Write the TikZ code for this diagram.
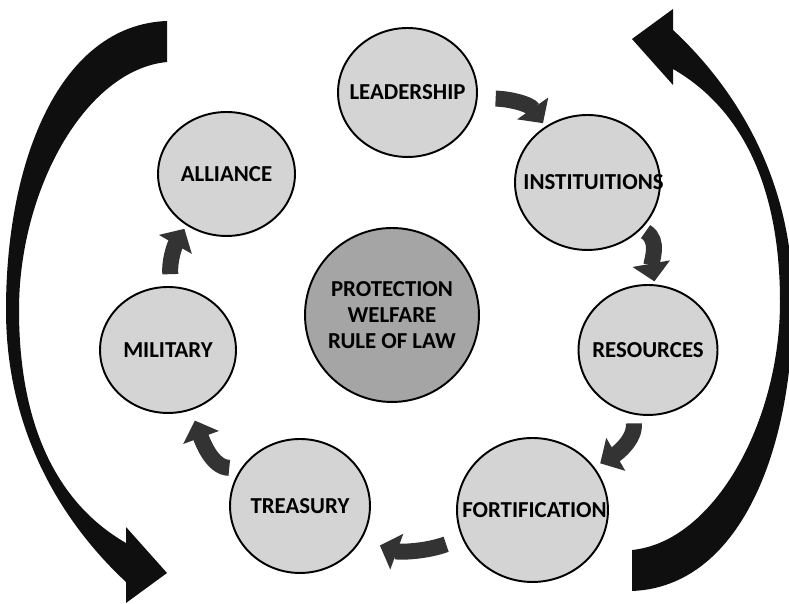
\documentclass[tikz,border=0pt]{standalone}
\usepackage{fontspec}
\setmainfont{Carlito}
\usetikzlibrary{shapes.geometric, arrows.meta}
\definecolor{discgray}{HTML}{D4D4D4}
\definecolor{coregray}{HTML}{A5A5A5}
\definecolor{flowgray}{HTML}{333333}
\definecolor{sweepblack}{HTML}{0F0F0F}

\begin{document}
\begin{tikzpicture}[x=0.02cm, y=0.02cm,
                    disc/.style 2 args={ellipse, draw, line width=1.1pt, fill=discgray,
                                        minimum width=#1, minimum height=#2, inner sep=0pt},
                    flow/.style={draw=flowgray, line width=0.32cm,
                                 -{Triangle[width=0.74cm, length=0.36cm]}},
                    sweep/.style={fill=sweepblack},
                    font=\bfseries\fontsize{13}{14.8}\selectfont]
  \useasboundingbox (0, 0) rectangle (789, 604);

  % Outer cycle: the two big sweeping arrows.
  \foreach \turn in {0, 180}
    \fill [sweep, rotate around={\turn:(399.5, 298)}]
      (167, 583) .. controls (60, 579) and (6, 444) .. (6, 294)
      .. controls (6, 164) and (70, 74) .. (126, 22)
      -- (126, 1) -- (167, 31) -- (126, 77) -- (126, 61)
      .. controls (60, 99) and (19, 174) .. (19, 294)
      .. controls (19, 414) and (85, 534) .. (167, 542) -- cycle;

  % Core.
  \node at (392, 289) [disc={3.48cm}{3.48cm}, fill=coregray,
                       label={[align=center]center:PROTECTION\\WELFARE\\RULE OF LAW},
                       name=core] {};

  % Ring.
  \node at (407.5, 511.5) [disc={2.78cm}{2.58cm}, label=center:LEADERSHIP, name=lead] {};
  \node at (587.5, 421.5) [disc={2.9cm}{2.7cm}, label={[xshift=0.12cm]center:INSTITUITIONS}, name=inst] {};
  \node at (648, 254) [disc={2.78cm}{2.6cm}, label=center:RESOURCES, name=reso] {};
  \node at (532.5, 94) [disc={3.02cm}{2.88cm}, label={[xshift=0.04cm]center:FORTIFICATION}, name=fort] {};
  \node at (300, 98) [disc={2.8cm}{2.68cm}, label=center:TREASURY, name=trea] {};
  \node at (168, 254) [disc={2.72cm}{2.52cm}, label=center:MILITARY, name=mili] {};
  \node at (226.5, 430) [disc={2.74cm}{2.48cm}, label=center:ALLIANCE, name=alli] {};

  % Flows around the ring.
  \draw [flow, shorten <=0.36cm, shorten >=0.08cm] (lead.-5) to [out=0, in=125] (inst.127);
  \draw [flow, shorten <=0.1cm, shorten >=0.06cm] (inst.-41) to [out=-30, in=100] (reso.84);
  \draw [flow, shorten <=0.18cm, shorten >=0.14cm] (reso.-103) to [out=-85, in=30] (fort.35);
  \draw [flow, shorten <=0.34cm, shorten >=0.38cm] (fort.202) to [out=200, in=-20] (trea.-28);
  \draw [flow, shorten <=0.24cm, shorten >=0.22cm] (trea.147) to [out=180, in=-70] (mili.-69);
  \draw [flow, shorten <=0.24cm, shorten >=0.08cm] (mili.87) to [out=95, in=240] (alli.232);
\end{tikzpicture}
\end{document}
